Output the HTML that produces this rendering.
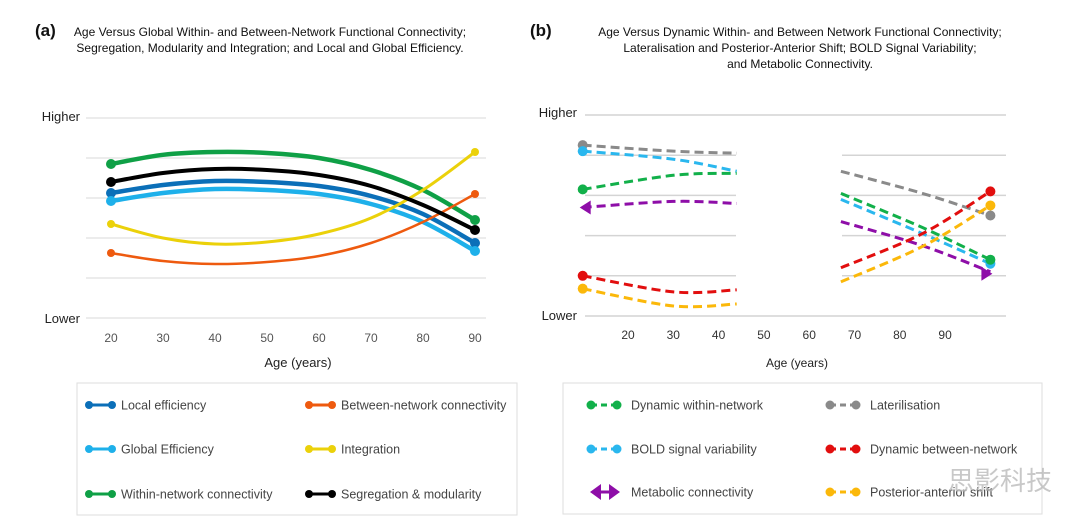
<!DOCTYPE html>
<html><head><meta charset="utf-8"><style>
body{margin:0;background:#fff;font-family:"Liberation Sans",sans-serif}
svg text{font-family:"Liberation Sans","Noto Sans CJK SC",sans-serif}
</style></head><body>
<svg id="s" width="1080" height="524" xmlns="http://www.w3.org/2000/svg">
<text x="35" y="36" font-size="17" font-weight="bold" fill="#111">(a)</text>
<text x="270" y="36" font-size="12" text-anchor="middle" fill="#111">Age Versus Global Within- and Between-Network Functional Connectivity;</text>
<text x="270" y="52" font-size="12" text-anchor="middle" fill="#111">Segregation, Modularity and Integration; and Local and Global Efficiency.</text>
<text x="530" y="36" font-size="17" font-weight="bold" fill="#111">(b)</text>
<text x="800" y="36" font-size="12" text-anchor="middle" fill="#111">Age Versus Dynamic Within- and Between Network Functional Connectivity;</text>
<text x="800" y="52" font-size="12" text-anchor="middle" fill="#111">Lateralisation and Posterior-Anterior Shift; BOLD Signal Variability;</text>
<text x="800" y="68" font-size="12" text-anchor="middle" fill="#111">and Metabolic Connectivity.</text>
<g id="ga"></g><g id="gb"></g>
<rect x="77" y="383" width="440" height="132" fill="none" stroke="#ddd"/>
<rect x="563" y="383" width="479" height="131" fill="none" stroke="#ddd"/>
<g id="la"></g><g id="lb"></g>
<text x="1000" y="490" font-size="26" text-anchor="middle" fill="#bbb" opacity="0.8">思影科技</text>
</svg>
<script>
const NS="http://www.w3.org/2000/svg";
function mk(p,t,a){const e=document.createElementNS(NS,t);for(const k in a)e.setAttribute(k,a[k]);p.appendChild(e);return e;}
function smooth(pts){let d="M"+pts[0][0]+","+pts[0][1];for(let i=0;i<pts.length-1;i++){const p0=pts[i-1]||pts[i],p1=pts[i],p2=pts[i+1],p3=pts[i+2]||p2;
const c1=[p1[0]+(p2[0]-p0[0])/6,p1[1]+(p2[1]-p0[1])/6],c2=[p2[0]-(p3[0]-p1[0])/6,p2[1]-(p3[1]-p1[1])/6];
d+=` C${c1[0]},${c1[1]} ${c2[0]},${c2[1]} ${p2[0]},${p2[1]}`;}return d;}

// Panel A data (levels 0=Lower .. 5=Higher)
const agesA=[20,30,40,50,60,70,80,90];
const tickA=[20,30,40,50,60,70,80,90];
const local=[3.125,3.325,3.425,3.4,3.3,3.05,2.6,1.875];
const between=[1.625,1.425,1.35,1.4,1.55,1.875,2.4,3.1];
const globalEff=[2.925,3.125,3.225,3.2,3.1,2.85,2.4,1.675];
const integration=[2.35,2.0,1.85,1.9,2.1,2.5,3.2,4.15];
const within=[3.85,4.08,4.15,4.125,4.0,3.7,3.2,2.45];
const segregation=[3.4,3.625,3.725,3.7,3.575,3.3,2.825,2.2];
const seriesA=[["local-efficiency",local,"#0b6fb8",4.5],["global-efficiency",globalEff,"#1eb0ea",4.5],["within-network",within,"#0fa046",4.5],["between-network",between,"#ee5a0f",2.5],["integration",integration,"#ebd10a",3],["segregation",segregation,"#000",4]];
const xA=a=>111+(a-20)*5.2, yA=v=>318-v*40;
const ga=document.getElementById('ga');
for(let i=0;i<=5;i++){const g=mk(ga,'line',{x1:86,x2:486,y1:yA(i),y2:yA(i),stroke:'#e6e6e6','stroke-width':1.5});

}
let t=mk(ga,'text',{x:80,y:121,'font-size':13,'text-anchor':'end',fill:'#222'});t.textContent='Higher';


t=mk(ga,'text',{x:80,y:323,'font-size':13,'text-anchor':'end',fill:'#222'});t.textContent='Lower';


tickA.forEach(a=>{const e=mk(ga,'text',{x:xA(a),y:342,'font-size':12,'text-anchor':'middle',fill:'#555'});e.textContent=a;

});
t=mk(ga,'text',{x:298,y:367,'font-size':13,'text-anchor':'middle',fill:'#222'});t.textContent='Age (years)';


seriesA.forEach(([n,v,c,w])=>{const pts=agesA.map((a,i)=>[xA(a),yA(v[i])]);
const p=mk(ga,'path',{d:smooth(pts),fill:'none',stroke:c,'stroke-width':w});


[pts[0],pts[pts.length-1]].forEach(q=>{const m=mk(ga,'circle',{cx:q[0],cy:q[1],r:w>3?5:4,fill:c});

});});

// Panel B data
const tickB=[20,30,40,50,60,70,80,90];
const agesBL=[10,30,44];
const agesBR=[67,85,100];
const latL=[4.25,4.1,4.05], latR=[3.6,3.05,2.5];
const boldL=[4.1,3.9,3.6], boldR=[2.9,2.05,1.3];
const dynWL=[3.15,3.5,3.55], dynWR=[3.05,2.2,1.4];
const metaL=[2.7,2.85,2.8], metaR=[2.35,1.75,1.1];
const dynBL=[1.0,0.6,0.65], dynBR=[1.2,2.05,3.1];
const postL=[0.68,0.25,0.3], postR=[0.85,1.73,2.75];
const seriesB=[["laterilisation",latL,latR,"#8a8a8a"],["bold-variability",boldL,boldR,"#2ab7ee"],["dynamic-within",dynWL,dynWR,"#12b04a"],["metabolic",metaL,metaR,"#8e0ea8"],["dynamic-between",dynBL,dynBR,"#e20e0e"],["posterior-anterior",postL,postR,"#fbb80a"]];
const xB=a=>628+(a-20)*4.53, yB=v=>316-v*40.2;
const gb=document.getElementById('gb');
for(let i=0;i<=5;i++){const y=yB(i);
const segs=(i==0||i==5)?[[585,1006]]:[[585,736],[842,1006]];
segs.forEach(s=>{const g=mk(gb,'line',{x1:s[0],x2:s[1],y1:y,y2:y,stroke:'#d4d4d4','stroke-width':1.5});

});}
t=mk(gb,'text',{x:577,y:117,'font-size':13,'text-anchor':'end',fill:'#222'});t.textContent='Higher';


t=mk(gb,'text',{x:577,y:320,'font-size':13,'text-anchor':'end',fill:'#222'});t.textContent='Lower';


tickB.forEach(a=>{const e=mk(gb,'text',{x:xB(a),y:339,'font-size':12,'text-anchor':'middle',fill:'#333'});e.textContent=a;

});
t=mk(gb,'text',{x:797,y:367,'font-size':12,'text-anchor':'middle',fill:'#222'});t.textContent='Age (years)';


function arrow(p,x,y,dir,c){const a=mk(p,'path',{d:`M${x},${y} l${-dir*11},-7 l0,14 z`,fill:c});return a;}
seriesB.forEach(([n,L,R,c])=>{
const pl=agesBL.map((a,i)=>[xB(a),yB(L[i])]), pr=agesBR.map((a,i)=>[xB(a),yB(R[i])]);
[pl,pr].forEach(pts=>{const p=mk(gb,'path',{d:smooth(pts),fill:'none',stroke:c,'stroke-width':3,'stroke-dasharray':'9 5'});

});
if(n==='metabolic'){
let a=arrow(gb,pl[0][0]-3,pl[0][1],-1,c);
a=arrow(gb,pr[2][0]+2,pr[2][1]+2,1,c);
}else{[pl[0],pr[2]].forEach(q=>{const m=mk(gb,'circle',{cx:q[0],cy:q[1],r:5,fill:c});

});}
});

// Legends
const legA=[["Local efficiency","#0b6fb8",85,405],["Between-network connectivity","#ee5a0f",305,405],["Global Efficiency","#1eb0ea",85,449],["Integration","#ebd10a",305,449],["Within-network connectivity","#0fa046",85,494],["Segregation & modularity","#000",305,494]];
const la=document.getElementById('la');
legA.forEach(([s,c,x,y])=>{const g=mk(la,'g',{});


mk(g,'line',{x1:x+4,x2:x+27,y1:y,y2:y,stroke:c,'stroke-width':3});
mk(g,'circle',{cx:x+4,cy:y,r:4,fill:c});mk(g,'circle',{cx:x+27,cy:y,r:4,fill:c});
const e=mk(g,'text',{x:x+36,y:y+4.5,'font-size':12.5,fill:'#444'});e.textContent=s;});
const legB=[["Dynamic within-network","#12b04a",587,405],["Laterilisation","#8a8a8a",826,405],["BOLD signal variability","#2ab7ee",587,449],["Dynamic between-network","#e20e0e",826,449],["Metabolic connectivity","#8e0ea8",587,492],["Posterior-anterior shift","#fbb80a",826,492]];
const lb=document.getElementById('lb');
legB.forEach(([s,c,x,y])=>{const g=mk(lb,'g',{});


if(s.startsWith('Metabolic')){mk(g,'path',{d:`M${x+3},${y} l11,-8 l0,16 z M${x+33},${y} l-11,-8 l0,16 z`,fill:c});mk(g,'line',{x1:x+12,x2:x+24,y1:y,y2:y,stroke:c,'stroke-width':3});}
else{mk(g,'line',{x1:x+4,x2:x+30,y1:y,y2:y,stroke:c,'stroke-width':3,'stroke-dasharray':'6 4'});
mk(g,'circle',{cx:x+4,cy:y,r:4.5,fill:c});mk(g,'circle',{cx:x+30,cy:y,r:4.5,fill:c});}
const e=mk(g,'text',{x:x+44,y:y+4.5,'font-size':12.5,fill:'#444'});e.textContent=s;});
</script>
</body></html>
